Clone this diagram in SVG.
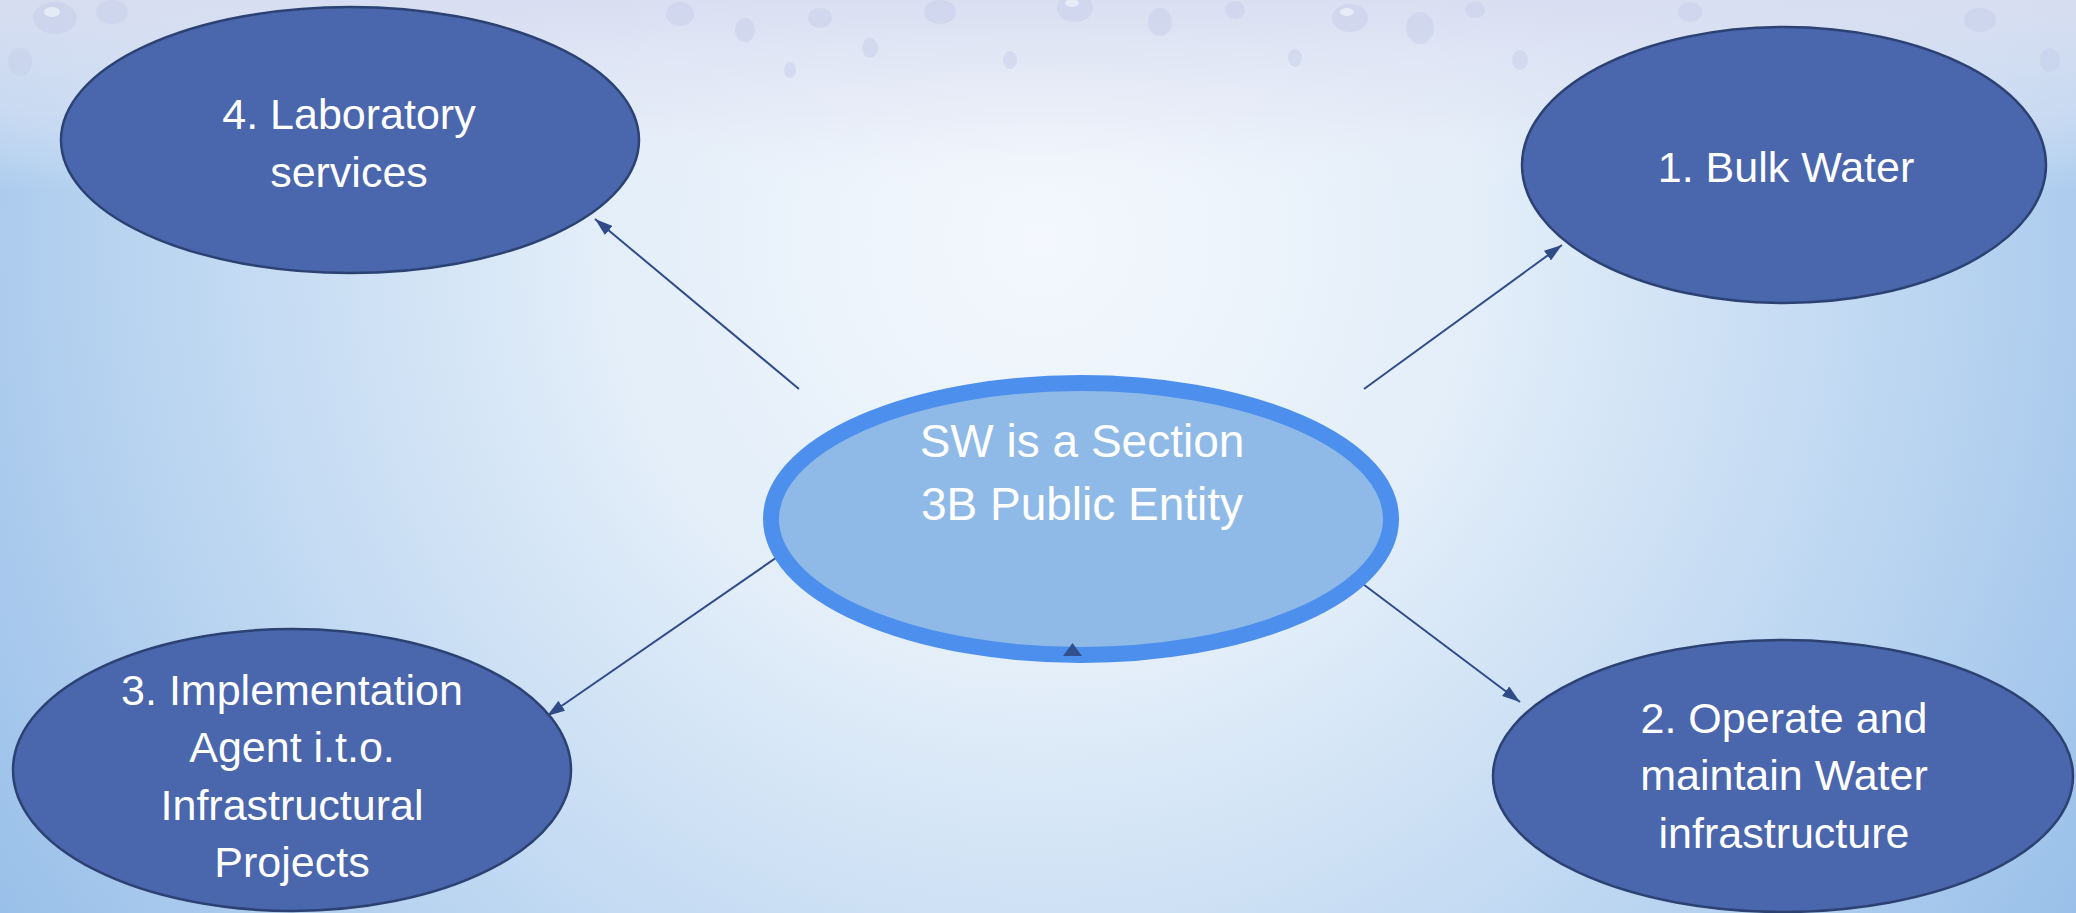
<svg xmlns="http://www.w3.org/2000/svg" width="2076" height="913" viewBox="0 0 2076 913">
  <defs>
    <radialGradient id="bg" gradientUnits="userSpaceOnUse" cx="1040" cy="240" r="1250">
      <stop offset="0" stop-color="#f4f8fd"/>
      <stop offset="0.35" stop-color="#e3eef9"/>
      <stop offset="0.7" stop-color="#bcd6f1"/>
      <stop offset="1" stop-color="#98bfe9"/>
    </radialGradient>
    <linearGradient id="topband" x1="0" y1="0" x2="0" y2="1">
      <stop offset="0" stop-color="#d9def1" stop-opacity="0.95"/>
      <stop offset="0.6" stop-color="#e3e7f5" stop-opacity="0.5"/>
      <stop offset="1" stop-color="#eef2fb" stop-opacity="0"/>
    </linearGradient>
    <marker id="arrow" viewBox="0 0 18 12" refX="18" refY="6" markerWidth="18" markerHeight="12" markerUnits="userSpaceOnUse" orient="auto">
      <path d="M0,0 L18,6 L0,12 z" fill="#304c88"/>
    </marker>
  </defs>
  <style>
    .node { fill: #4a66ac; stroke: #2c4273; stroke-width: 2.5; }
    .center { fill: #8fbae7; stroke: #4d8fec; stroke-width: 16; }
    .lbl { font-family: "Liberation Sans", Arial, sans-serif; font-size: 43px; fill: #ffffff; text-anchor: middle; }
    .clbl { font-family: "Liberation Sans", Arial, sans-serif; font-size: 46px; fill: #ffffff; text-anchor: middle; }
    .conn { stroke: #304c88; stroke-width: 2; fill: none; marker-end: url(#arrow); }
    .drop { fill: #c3cbe8; opacity: 0.45; }
    .hl { fill: #ffffff; opacity: 0.5; }
  </style>

  <g id="background">
    <rect x="0" y="0" width="2076" height="913" fill="url(#bg)"/>
    <rect x="0" y="0" width="2076" height="190" fill="url(#topband)"/>
    <g>
      <ellipse class="drop" cx="55" cy="18" rx="22" ry="16"/>
      <ellipse class="drop" cx="112" cy="12" rx="16" ry="12"/>
      <ellipse class="drop" cx="20" cy="62" rx="12" ry="14"/>
      <ellipse class="drop" cx="680" cy="14" rx="14" ry="12"/>
      <ellipse class="drop" cx="745" cy="30" rx="10" ry="12"/>
      <ellipse class="drop" cx="820" cy="18" rx="12" ry="10"/>
      <ellipse class="drop" cx="870" cy="48" rx="8" ry="10"/>
      <ellipse class="drop" cx="940" cy="12" rx="16" ry="12"/>
      <ellipse class="drop" cx="1075" cy="8" rx="18" ry="14"/>
      <ellipse class="drop" cx="1160" cy="22" rx="12" ry="14"/>
      <ellipse class="drop" cx="1235" cy="10" rx="10" ry="9"/>
      <ellipse class="drop" cx="1350" cy="18" rx="18" ry="14"/>
      <ellipse class="drop" cx="1420" cy="28" rx="14" ry="16"/>
      <ellipse class="drop" cx="1475" cy="10" rx="10" ry="8"/>
      <ellipse class="drop" cx="1520" cy="60" rx="8" ry="10"/>
      <ellipse class="drop" cx="1690" cy="12" rx="12" ry="10"/>
      <ellipse class="drop" cx="1980" cy="20" rx="16" ry="12"/>
      <ellipse class="drop" cx="2050" cy="60" rx="10" ry="12"/>
      <ellipse class="drop" cx="1010" cy="60" rx="7" ry="9"/>
      <ellipse class="drop" cx="790" cy="70" rx="6" ry="8"/>
      <ellipse class="drop" cx="1295" cy="58" rx="7" ry="9"/>
      <ellipse class="hl" cx="52" cy="12" rx="8" ry="5"/>
      <ellipse class="hl" cx="1072" cy="3" rx="7" ry="4"/>
      <ellipse class="hl" cx="1347" cy="12" rx="7" ry="4"/>
    </g>
  </g>

  <g id="connectors">
    <line class="conn" x1="1364" y1="389" x2="1562" y2="245"/>
    <line class="conn" x1="1347" y1="572" x2="1520" y2="702"/>
    <line class="conn" x1="799" y1="542" x2="547" y2="716"/>
    <line class="conn" x1="799" y1="389" x2="595" y2="219"/>
  </g>

  <g id="node-center">
    <ellipse class="center" cx="1081" cy="519" rx="310" ry="136"/>
    <text class="clbl" x="1082" y="457">SW is a Section</text>
    <text class="clbl" x="1082" y="520">3B Public Entity</text>
    <polygon points="1072.5,643 1063,656 1082,656" fill="#33508e"/>
  </g>

  <g id="node-1">
    <ellipse class="node" cx="1784" cy="165" rx="262" ry="138"/>
    <text class="lbl" x="1786" y="182">1. Bulk Water</text>
  </g>

  <g id="node-2">
    <ellipse class="node" cx="1783" cy="776" rx="290" ry="136"/>
    <text class="lbl" x="1784" y="733">2. Operate and</text>
    <text class="lbl" x="1784" y="790">maintain Water</text>
    <text class="lbl" x="1784" y="848">infrastructure</text>
  </g>

  <g id="node-3">
    <ellipse class="node" cx="292" cy="770" rx="279" ry="141"/>
    <text class="lbl" x="292" y="705">3. Implementation</text>
    <text class="lbl" x="292" y="762">Agent i.t.o.</text>
    <text class="lbl" x="292" y="820">Infrastructural</text>
    <text class="lbl" x="292" y="877">Projects</text>
  </g>

  <g id="node-4">
    <ellipse class="node" cx="350" cy="140" rx="289" ry="133"/>
    <text class="lbl" x="349" y="129">4. Laboratory</text>
    <text class="lbl" x="349" y="187">services</text>
  </g>
</svg>
